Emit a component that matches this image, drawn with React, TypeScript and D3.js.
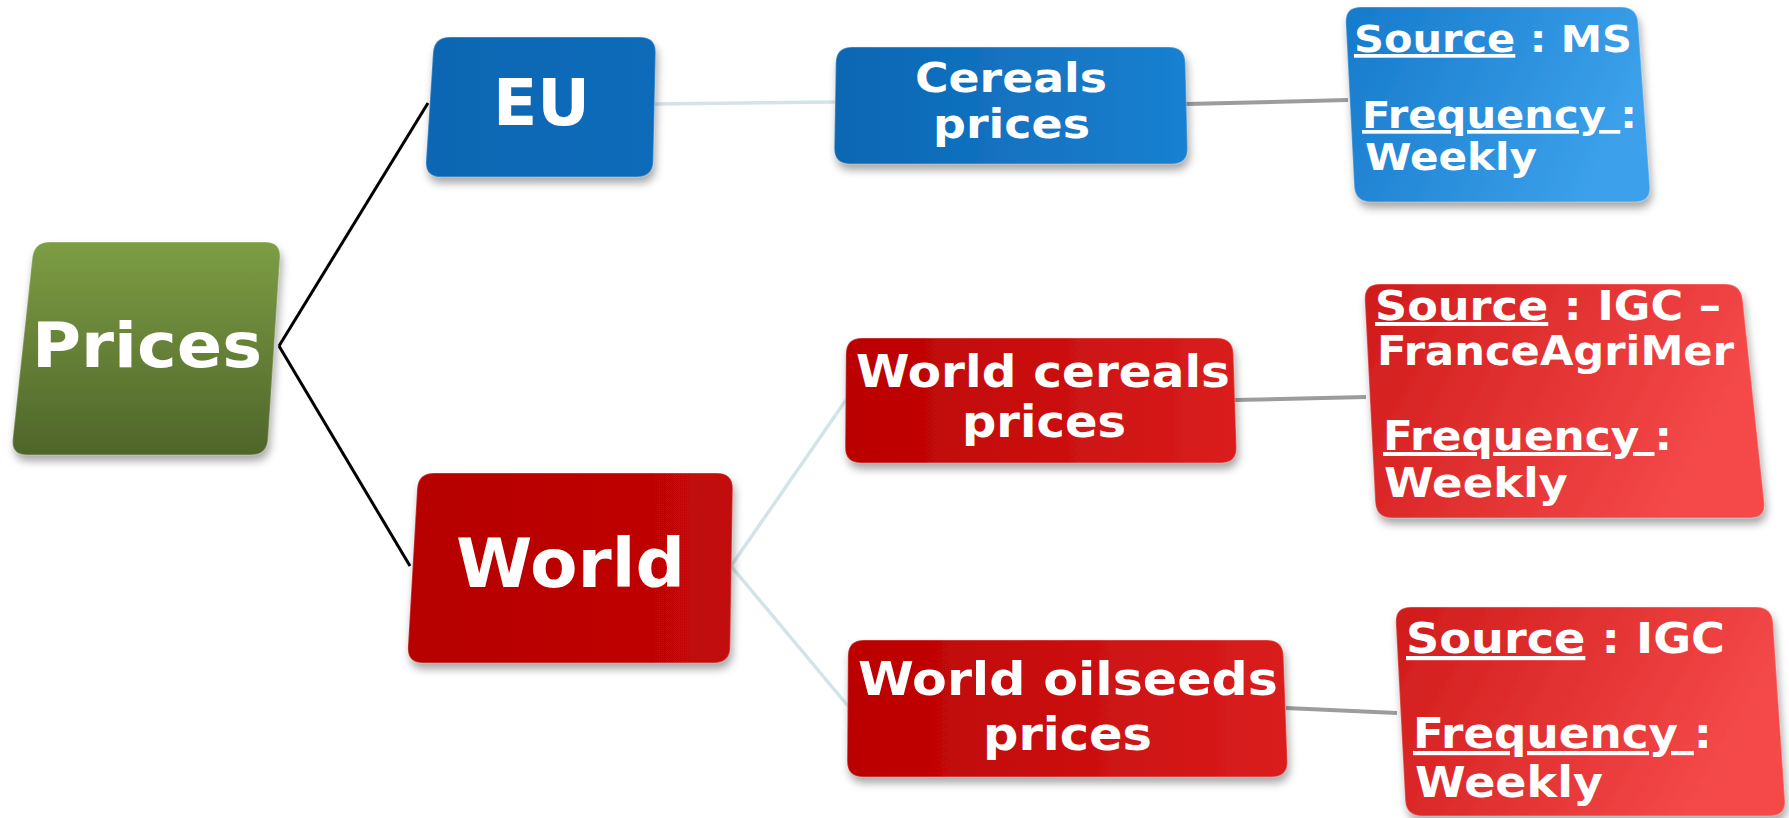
import React from "react";
import * as d3 from "d3";

// ---- data ----
const nodeIds = ["prices", "eu", "world", "cereals", "worldCereals", "worldOilseeds", "srcMS", "srcIGCFAM", "srcIGC"];
const nodeLabels: string[][] = [
  ["Prices"],
  ["EU"],
  ["World"],
  ["Cereals", "prices"],
  ["World cereals", "prices"],
  ["World oilseeds", "prices"],
  ["Source|: MS", "Frequency |:", "Weekly"],
  ["Source|: IGC –", "FranceAgriMer", "Frequency |:", "Weekly"],
  ["Source|: IGC", "Frequency |:", "Weekly"],
];
const edgeList: [string, string][] = [
  ["prices", "eu"],
  ["prices", "world"],
  ["eu", "cereals"],
  ["cereals", "srcMS"],
  ["world", "worldCereals"],
  ["world", "worldOilseeds"],
  ["worldCereals", "srcIGCFAM"],
  ["worldOilseeds", "srcIGC"],
];

// ---- layout (geometry & style) ----
type Pt = [number, number];
const quads: Record<string, Pt[]> = {
  prices: [[34, 242], [281, 242], [267, 455], [11, 455]],
  eu: [[434, 37], [656, 37], [653, 177], [425, 177]],
  world: [[418, 473], [733, 473], [730, 663], [407, 663]],
  cereals: [[836, 47], [1185, 47], [1188, 164], [834, 164]],
  worldCereals: [[846, 338], [1233, 338], [1237, 463], [845, 463]],
  worldOilseeds: [[848, 640], [1283, 640], [1288, 777], [847, 777]],
  srcMS: [[1345, 7], [1637, 7], [1651, 202], [1355, 202]],
  srcIGCFAM: [[1364, 284], [1741, 284], [1766, 518], [1376, 518]],
  srcIGC: [[1395, 607], [1772, 607], [1786, 816], [1406, 816]],
};
const textPos: Record<string, [number, number, number][]> = {
  prices: [[32, 367, 230]],
  eu: [[493, 125, 97]],
  world: [[456, 587, 229]],
  cereals: [[915, 92, 192], [933, 138, 157]],
  worldCereals: [[856, 387, 374], [962, 437, 164]],
  worldOilseeds: [[858, 695, 420], [983, 750, 169]],
  srcMS: [[1354, 52, 278], [1362, 128, 275], [1365, 170, 172]],
  srcIGCFAM: [[1375, 320, 346], [1377, 365, 357], [1383, 450, 289], [1384, 497, 184]],
  srcIGC: [[1406, 653, 319], [1413, 748, 299], [1415, 797, 188]],
};
const fontSize: Record<string, number> = {
  prices: 62, eu: 64, world: 68, cereals: 41, worldCereals: 44, worldOilseeds: 46,
  srcMS: 37, srcIGCFAM: 40, srcIGC: 42,
};
const fills: Record<string, string> = {
  prices: "gGreen", eu: "gEU", world: "gWorld", cereals: "gBlue", worldCereals: "gRed",
  worldOilseeds: "gRed", srcMS: "gBlueSrc", srcIGCFAM: "gRedSrc", srcIGC: "gRedSrc",
};
const edgeAnchors: [Pt, Pt][] = [
  [[279, 346], [428, 103]],
  [[279, 346], [410, 566]],
  [[655, 104], [836, 102]],
  [[1186, 104], [1348, 100]],
  [[731, 566], [846, 400]],
  [[731, 566], [848, 706]],
  [[1235, 400], [1366, 397]],
  [[1286, 708], [1397, 713]],
];
const edgeStyle = (i: number) =>
  i < 2 ? { stroke: "#000", w: 3 } : edgeList[i][1].startsWith("src") ? { stroke: "#9c9c9c", w: 4 } : { stroke: "#d3e4e8", w: 3.5 };

function roundedQuad(pts: Pt[], r: number): string {
  const n = pts.length;
  const path = d3.path();
  const along = (a: Pt, b: Pt, d: number): Pt => {
    const dx = b[0] - a[0], dy = b[1] - a[1];
    const L = Math.hypot(dx, dy);
    return [a[0] + (dx / L) * d, a[1] + (dy / L) * d];
  };
  for (let i = 0; i < n; i++) {
    const prev = pts[(i - 1 + n) % n], cur = pts[i], next = pts[(i + 1) % n];
    const p1 = along(cur, prev, r), p2 = along(cur, next, r);
    if (i === 0) path.moveTo(p1[0], p1[1]);
    else path.lineTo(p1[0], p1[1]);
    path.quadraticCurveTo(cur[0], cur[1], p2[0], p2[1]);
  }
  path.closePath();
  return path.toString();
}

const line = d3.line<Pt>().x((d) => d[0]).y((d) => d[1]);

export default function App() {
  return (
    <svg width={1789} height={818} style={{ position: "absolute", left: 0, top: 0, background: "#fff" }}>
      <defs>
        <filter id="shadow" x="-10%" y="-10%" width="125%" height="140%">
          <feDropShadow dx="2" dy="6" stdDeviation="4" floodColor="#000" floodOpacity="0.35" />
        </filter>
        <linearGradient id="gGreen" x1="0" y1="0" x2="0" y2="1">
          <stop offset="0" stopColor="#7d9d44" />
          <stop offset="1" stopColor="#4f652a" />
        </linearGradient>
        <linearGradient id="gEU" x1="0" y1="0" x2="1" y2="0">
          <stop offset="0" stopColor="#0866b3" />
          <stop offset="1" stopColor="#0c6cba" />
        </linearGradient>
        <linearGradient id="gBlue" x1="0" y1="0" x2="1" y2="0">
          <stop offset="0" stopColor="#0b66b3" />
          <stop offset="1" stopColor="#1a80d0" />
        </linearGradient>
        <linearGradient id="gBlueSrc" x1="0" y1="0" x2="1" y2="0.3">
          <stop offset="0" stopColor="#167acb" />
          <stop offset="1" stopColor="#3ca0ea" />
        </linearGradient>
        <linearGradient id="gWorld" x1="0" y1="0" x2="1" y2="0">
          <stop offset="0" stopColor="#b60000" />
          <stop offset="1" stopColor="#c20808" />
        </linearGradient>
        <linearGradient id="gRed" x1="0" y1="0" x2="1" y2="0">
          <stop offset="0" stopColor="#ba0000" />
          <stop offset="1" stopColor="#da1e1e" />
        </linearGradient>
        <linearGradient id="gRedSrc" x1="0" y1="0" x2="1" y2="0.3">
          <stop offset="0" stopColor="#d01a1a" />
          <stop offset="1" stopColor="#f54a4a" />
        </linearGradient>
      </defs>

      {edgeList.map((e, i) => {
        const s = edgeStyle(i);
        return (
          <path key={e.join("-")} d={line(edgeAnchors[i]) || ""} stroke={s.stroke} strokeWidth={s.w} fill="none" />
        );
      })}

      {nodeIds.map((id, ni) => (
        <g key={id}>
          <path d={roundedQuad(quads[id], 16)} fill={`url(#${fills[id]})`} filter="url(#shadow)" />
          <path d={roundedQuad(quads[id], 16)} fill="none" stroke="rgba(255,255,255,0.25)" strokeWidth={1.5} />
          {nodeLabels[ni].map((lab, li) => {
            const [x, y, len] = textPos[id][li];
            const parts = lab.split("|");
            return (
              <text
                key={li}
                x={x}
                y={y}
                textLength={len}
                lengthAdjust="spacingAndGlyphs"
                fill="#fff"
                fontFamily="'DejaVu Sans', Verdana, sans-serif"
                fontWeight="bold"
                fontSize={fontSize[id]}
              >
                {parts.length > 1 ? (
                  <>
                    <tspan textDecoration="underline">{parts[0]}</tspan>
                    <tspan>{" " + parts[1]}</tspan>
                  </>
                ) : (
                  lab
                )}
              </text>
            );
          })}
        </g>
      ))}
    </svg>
  );
}
